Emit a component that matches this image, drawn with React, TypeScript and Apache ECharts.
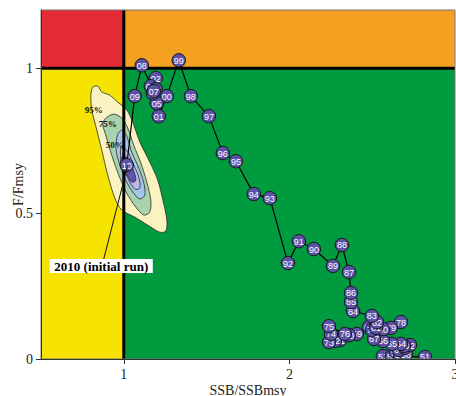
import React, { useEffect, useRef } from "react";
import * as echarts from "echarts";

// ---- data ----
const years = [
  1951, 1952, 1953, 1954, 1955, 1956, 1957, 1958, 1959, 1960,
  1961, 1962, 1963, 1964, 1965, 1966, 1967, 1968, 1969, 1970,
  1971, 1972, 1973, 1974, 1975, 1976, 1977, 1978, 1979, 1980,
  1981, 1982, 1983, 1984, 1985, 1986, 1987, 1988, 1989, 1990,
  1991, 1992, 1993, 1994, 1995, 1996, 1997, 1998, 1999, 2000,
  2001, 2002, 2003, 2004, 2005, 2006, 2007, 2008, 2009, 2010,
];
const ssbRatio = [
  2.819, 2.565, 2.619, 2.644, 2.668, 2.692, 2.674, 2.704, 2.686, 2.662,
  2.698, 2.728, 2.692, 2.674, 2.619, 2.565, 2.511, 2.48, 2.408, 2.36,
  2.305, 2.275, 2.239, 2.251, 2.239, 2.335, 2.498, 2.674, 2.613, 2.565,
  2.523, 2.529, 2.498, 2.384, 2.372, 2.372, 2.36, 2.317, 2.263, 2.148,
  2.057, 1.991, 1.882, 1.785, 1.677, 1.598, 1.514, 1.405, 1.332, 1.26,
  1.211, 1.193, 1.163, 1.193, 1.199, 1.175, 1.181, 1.109, 1.066, 1.018,
];
const fRatio = [
  0.007, 0.01, 0.01, 0.024, 0.014, 0.027, 0.034, 0.017, 0.041, 0.031,
  0.038, 0.048, 0.045, 0.052, 0.052, 0.062, 0.069, 0.11, 0.086, 0.082,
  0.065, 0.062, 0.058, 0.086, 0.113, 0.086, 0.1, 0.127, 0.107, 0.103,
  0.107, 0.127, 0.148, 0.165, 0.196, 0.227, 0.299, 0.392, 0.32, 0.378,
  0.405, 0.33, 0.553, 0.567, 0.68, 0.708, 0.835, 0.904, 1.027, 0.904,
  0.835, 0.966, 0.938, 0.928, 0.88, 0.914, 0.921, 1.01, 0.904, 0.667,
];

const xTicks = [1, 2, 3];
const yTicks = [0, 0.5, 1];
const ssbMsyRef = 1;
const fMsyRef = 1;

// Uncertainty contours for the initial 2010 run (SSB/SSBmsy, F/Fmsy)
const contour95 = [
  [0.813, 0.935], [0.843, 0.938], [0.867, 0.918], [0.915, 0.907], [0.964, 0.883],
  [1.018, 0.856], [1.054, 0.814], [1.097, 0.746], [1.157, 0.677], [1.205, 0.615],
  [1.236, 0.546], [1.26, 0.478], [1.254, 0.44], [1.218, 0.436], [1.145, 0.46],
  [1.066, 0.488], [0.988, 0.512], [0.946, 0.553], [0.903, 0.632], [0.867, 0.718],
  [0.837, 0.787], [0.807, 0.856], [0.801, 0.907],
];
const contour75 = [
  [0.891, 0.828], [0.94, 0.842], [0.988, 0.828], [1.024, 0.794], [1.06, 0.735],
  [1.103, 0.674], [1.139, 0.608], [1.163, 0.546], [1.157, 0.505], [1.121, 0.495],
  [1.073, 0.522], [1.018, 0.57], [0.97, 0.632], [0.927, 0.701], [0.891, 0.77],
  [0.873, 0.808],
];
const contour50 = [
  [0.964, 0.773], [0.988, 0.787], [1.018, 0.766], [1.048, 0.711], [1.091, 0.656],
  [1.121, 0.605], [1.127, 0.564], [1.097, 0.55], [1.054, 0.574], [1.012, 0.615],
  [0.976, 0.667], [0.952, 0.725],
];
const contour25 = [
  [0.982, 0.725], [1.018, 0.718], [1.054, 0.674], [1.091, 0.625], [1.097, 0.588],
  [1.066, 0.584], [1.024, 0.622], [0.988, 0.674],
];
const contour10 = [
  [0.988, 0.694], [1.024, 0.691], [1.054, 0.656], [1.073, 0.615], [1.048, 0.608],
  [1.012, 0.643], [0.982, 0.674],
];
const contourLabelTexts = ["95%", "75%", "50%"];
const contourLabelPos = [[0.819, 0.856], [0.903, 0.808], [0.946, 0.735]];

const annotationText = "2010 (initial run)";
const annotationPos = [0.864, 0.32];

// ---- styles ----
const contours = [contour95, contour75, contour50, contour25, contour10];
const contourFills = ["#fbf2c2", "#a9d3ad", "#a4c6e8", "#bdb9e6", "#5e55ad"];
const SERIF = "'Liberation Serif', 'DejaVu Serif', serif";

export default function App() {
  const ref = useRef<HTMLDivElement>(null);

  useEffect(() => {
    if (!ref.current) return;
    const chart = echarts.init(ref.current, undefined, { renderer: "svg" });

    const trajectory = years.map((_, i) => [ssbRatio[i], fRatio[i]]);
    const idx2010 = years.indexOf(2010);

    const option: any = {
      animation: false,
      backgroundColor: "#ffffff",
      grid: {
        left: 41,
        right: 1,
        top: 10,
        bottom: 37,
        containLabel: false,
        outerBoundsMode: "none",
        show: true,
        borderColor: "#777",
        borderWidth: 1,
        z: 10,
      },
      xAxis: {
        type: "value",
        min: 0.5,
        max: 3,
        name: "SSB/SSBmsy",
        nameLocation: "middle",
        nameGap: 24,
        nameMoveOverlap: false,
        nameTextStyle: { fontFamily: SERIF, fontSize: 14, color: "#222" },
        axisLine: { show: true, lineStyle: { color: "#333", width: 1 } },
        axisTick: { show: true, customValues: xTicks, length: 5, lineStyle: { color: "#333" } },
        axisLabel: {
          customValues: xTicks,
          fontFamily: SERIF,
          fontSize: 14,
          color: "#222",
          margin: 8,
        },
        splitLine: { show: false },
        z: 10,
      },
      yAxis: {
        type: "value",
        min: 0,
        max: 1.2,
        name: "F/Fmsy",
        nameLocation: "middle",
        nameGap: 16,
        nameMoveOverlap: false,
        nameTextStyle: { fontFamily: SERIF, fontSize: 14, color: "#222" },
        axisLine: { show: true, lineStyle: { color: "#333", width: 1 } },
        axisTick: { show: true, customValues: yTicks, length: 5, lineStyle: { color: "#333" } },
        axisLabel: {
          customValues: yTicks,
          fontFamily: SERIF,
          fontSize: 14,
          color: "#222",
          margin: 8,
        },
        splitLine: { show: false },
        z: 10,
      },
      series: [
        // quadrant backgrounds
        {
          type: "custom",
          z: 1,
          silent: true,
          clip: true,
          data: [[ssbMsyRef, fMsyRef]],
          renderItem: (_p: any, api: any) => {
            const c = api.coord([ssbMsyRef, fMsyRef]);
            const tl = api.coord([0.5, 1.2]);
            const br = api.coord([3, 0]);
            const rect = (x0: number, y0: number, x1: number, y1: number, fill: string) => ({
              type: "rect",
              shape: { x: x0, y: y0, width: x1 - x0, height: y1 - y0 },
              style: { fill },
            });
            return {
              type: "group",
              children: [
                rect(tl[0], tl[1], c[0], c[1], "#e42c37"),
                rect(c[0], tl[1], br[0], c[1], "#f4a021"),
                rect(tl[0], c[1], c[0], br[1], "#f6e400"),
                rect(c[0], c[1], br[0], br[1], "#009a3f"),
              ],
            };
          },
        },
        // contours
        {
          type: "custom",
          z: 2,
          silent: true,
          clip: true,
          data: contours.map((c, i) => [c[0][0], c[0][1], i]),
          renderItem: (p: any, api: any) => {
            const poly = contours[p.dataIndex];
            return {
              type: "polygon",
              shape: { points: poly.map((pt) => api.coord(pt)), smooth: 0.3 },
              style: { fill: contourFills[p.dataIndex], stroke: "#2a2a2a", lineWidth: 0.8 },
            };
          },
        },
        // contour labels
        {
          type: "custom",
          z: 3,
          silent: true,
          data: contourLabelPos.map((pt, i) => [pt[0], pt[1], i]),
          renderItem: (p: any, api: any) => {
            const c = api.coord([api.value(0), api.value(1)]);
            return {
              type: "text",
              x: c[0],
              y: c[1],
              style: {
                text: contourLabelTexts[p.dataIndex],
                fill: "#111",
                font: `bold 9px ${SERIF}`,
                align: "center",
                verticalAlign: "middle",
              },
            };
          },
        },
        // reference lines
        {
          type: "custom",
          z: 4,
          silent: true,
          clip: true,
          data: [[ssbMsyRef, fMsyRef]],
          renderItem: (_p: any, api: any) => {
            const a = api.coord([0.5, fMsyRef]);
            const b = api.coord([3, fMsyRef]);
            const c = api.coord([ssbMsyRef, 0]);
            const d = api.coord([ssbMsyRef, 1.2]);
            return {
              type: "group",
              children: [
                { type: "line", shape: { x1: a[0], y1: a[1], x2: b[0], y2: b[1] }, style: { stroke: "#000", lineWidth: 3 } },
                { type: "line", shape: { x1: c[0], y1: c[1], x2: d[0], y2: d[1] }, style: { stroke: "#000", lineWidth: 3 } },
              ],
            };
          },
        },
        // trajectory line
        {
          type: "line",
          z: 5,
          silent: true,
          clip: true,
          data: trajectory,
          symbol: "none",
          lineStyle: { color: "#000", width: 1.2 },
        },
        // year circles
        {
          type: "custom",
          z: 6,
          silent: true,
          clip: true,
          data: years.map((y, i) => [ssbRatio[i], fRatio[i], y]),
          renderItem: (_p: any, api: any) => {
            const c = api.coord([api.value(0), api.value(1)]);
            const yr = String(api.value(2) % 100).padStart(2, "0");
            return {
              type: "group",
              children: [
                {
                  type: "circle",
                  shape: { cx: c[0], cy: c[1], r: 6.7 },
                  style: { fill: "#5b52a8", stroke: "#141414", lineWidth: 1 },
                },
                {
                  type: "text",
                  x: c[0],
                  y: c[1] + 0.5,
                  style: {
                    text: yr,
                    fill: "#ffffff",
                    font: "9px 'Liberation Sans', Arial, sans-serif",
                    align: "center",
                    verticalAlign: "middle",
                  },
                },
              ],
            };
          },
        },
        // annotation
        {
          type: "custom",
          z: 7,
          silent: true,
          clip: false,
          data: [[annotationPos[0], annotationPos[1]]],
          renderItem: (_p: any, api: any) => {
            const c = api.coord([api.value(0), api.value(1)]);
            const target = api.coord([ssbRatio[idx2010], fRatio[idx2010]]);
            const w = 103;
            const h = 14;
            return {
              type: "group",
              children: [
                {
                  type: "line",
                  shape: { x1: c[0] + 2.5, y1: c[1] - h / 2, x2: target[0] + 1, y2: target[1] },
                  style: { stroke: "#111", lineWidth: 1 },
                },
                {
                  type: "rect",
                  shape: { x: c[0] - w / 2, y: c[1] - h / 2, width: w, height: h },
                  style: { fill: "#ffffff" },
                },
                {
                  type: "text",
                  x: c[0],
                  y: c[1] + 0.5,
                  style: {
                    text: annotationText,
                    fill: "#000",
                    font: `bold 13px ${SERIF}`,
                    align: "center",
                    verticalAlign: "middle",
                  },
                },
              ],
            };
          },
        },
      ],
    };

    chart.setOption(option);
    return () => chart.dispose();
  }, []);

  return <div ref={ref} style={{ width: 456, height: 396, position: "absolute", left: 0, top: 0 }} />;
}
